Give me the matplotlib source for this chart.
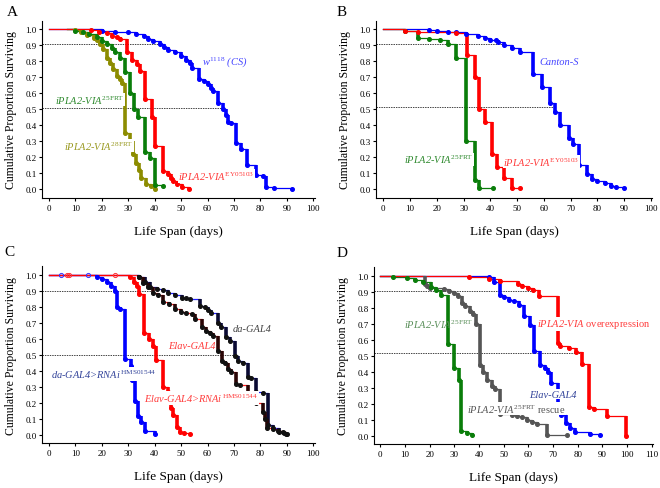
import numpy as np
import matplotlib
matplotlib.use('Agg')
import matplotlib.pyplot as plt
from matplotlib.ticker import FormatStrFormatter

plt.rcParams['font.family'] = ['Liberation Serif', 'DejaVu Serif']
plt.rcParams['mathtext.fontset'] = 'custom'
plt.rcParams['mathtext.rm'] = 'Liberation Serif'
plt.rcParams['mathtext.it'] = 'Liberation Serif:italic'
plt.rcParams['mathtext.bf'] = 'Liberation Serif:bold'

# ---- Panel A ----
a_w_t = [0, 20, 25, 30, 33, 36, 37.5, 39.5, 42, 43.5, 45, 47.8, 50, 52, 53.4, 54.3, 56.8, 58.8, 60, 61.3,
         62, 64, 65.9, 66.8, 67.8, 69, 70.9, 72.8, 75, 78.4, 80.9, 82, 85, 92]
a_w_s = [1.0, 0.99, 0.985, 0.98, 0.97, 0.96, 0.94, 0.925, 0.91, 0.89, 0.87, 0.86, 0.83, 0.81, 0.79, 0.76, 0.69, 0.675, 0.655, 0.63,
         0.61, 0.54, 0.50, 0.46, 0.42, 0.41, 0.29, 0.25, 0.15, 0.085, 0.08, 0.012, 0.006, 0.0]
a_r_t = [0, 16, 19, 22, 24, 25.6, 27, 29.4, 31.5, 33.2, 34.5, 36.3, 38.8, 40.3, 43.1, 45, 46, 47, 48.5, 50.3, 53]
a_r_s = [1.0, 0.995, 0.985, 0.975, 0.96, 0.95, 0.94, 0.86, 0.81, 0.78, 0.74, 0.56, 0.45, 0.27, 0.11, 0.09, 0.07, 0.05, 0.03, 0.012, 0.0]
a_g_t = [7, 10, 13, 15, 18, 20, 22, 24, 25, 27, 28.8, 30.6, 32.3, 33.8, 36.3, 38.1, 40, 43]
a_g_s = [1.0, 0.99, 0.98, 0.97, 0.95, 0.925, 0.905, 0.88, 0.855, 0.82, 0.73, 0.60, 0.50, 0.45, 0.23, 0.19, 0.025, 0.015]
a_o_t = [7, 10, 12, 14.4, 16.9, 18.1, 19.4, 20.6, 21.9, 23.1, 24.4, 25.6, 26.9, 27.8, 28.8, 30.6, 31.9, 33.1, 34, 35, 36.9, 38.5, 40]
a_o_s = [1.0, 0.995, 0.985, 0.965, 0.947, 0.93, 0.91, 0.875, 0.82, 0.79, 0.75, 0.71, 0.69, 0.665, 0.35, 0.30, 0.215, 0.16, 0.12, 0.07, 0.03, 0.015, 0.0]
a_ref_y = [0.905, 0.505]
a_ref_end = [43, 66]

# ---- Panel B ----
b_c_t = [0, 17, 20, 24, 27, 31, 35.5, 38, 40, 42, 43, 45, 48, 51, 56, 59.4, 62.4, 64.2, 66, 69.2,
         71, 73, 76, 78, 80, 83, 85, 87, 90]
b_c_s = [1.0, 0.995, 0.99, 0.985, 0.98, 0.97, 0.956, 0.945, 0.935, 0.93, 0.92, 0.90, 0.88, 0.855, 0.72, 0.635, 0.54, 0.48, 0.40, 0.32,
         0.28, 0.15, 0.09, 0.06, 0.05, 0.035, 0.02, 0.01, 0.004]
b_r_t = [0, 8, 13, 27, 31.2, 34.4, 35.6, 38.1, 40.6, 42.5, 45, 48, 51]
b_r_s = [1.0, 0.99, 0.98, 0.975, 0.84, 0.70, 0.50, 0.42, 0.215, 0.135, 0.065, 0.005, 0.004]
b_g_t = [0, 8, 13, 17, 21, 24, 27, 31, 34.2, 35.8, 41]
b_g_s = [1.0, 0.99, 0.945, 0.937, 0.932, 0.91, 0.82, 0.30, 0.055, 0.005, 0.004]
b_ref_y = [0.905, 0.51]
b_ref_end = [44.8, 63.8]

# ---- Panel C ----
c_dr_t = [0, 18, 20, 22, 23.5, 25, 25.6, 26.9, 28.8, 31.2, 31.6, 32.5, 33.6, 35, 36.3, 40]
c_dr_s = [1.0, 0.99, 0.975, 0.96, 0.93, 0.90, 0.80, 0.79, 0.475, 0.43, 0.34, 0.21, 0.12, 0.08, 0.025, 0.005]
c_er_t = [0, 30.6, 32, 33.3, 34, 36, 37.8, 39.2, 40.4, 43, 45, 46, 47, 48.3, 49.6, 51, 53.3]
c_er_s = [1.0, 0.99, 0.96, 0.93, 0.88, 0.64, 0.60, 0.555, 0.47, 0.30, 0.27, 0.17, 0.125, 0.05, 0.02, 0.01, 0.004]
c_d_t = [0, 34, 36.3, 38.2, 40.7, 43.2, 45, 47.7, 50.3, 52, 53.4, 57.1, 59, 60.3, 61.5, 63.8, 65, 67.1, 68.4, 70.3,
         71.5, 73.5, 75.3, 76.5, 78.4, 81, 82.8, 84.6, 87, 89, 90]
c_d_s = [1.0, 0.99, 0.96, 0.925, 0.915, 0.905, 0.89, 0.875, 0.86, 0.855, 0.85, 0.81, 0.80, 0.785, 0.765, 0.70, 0.675, 0.61, 0.59, 0.495,
         0.465, 0.45, 0.36, 0.355, 0.265, 0.26, 0.06, 0.04, 0.02, 0.01, 0.004]
c_e_t = [0, 34, 35.7, 37.6, 39.5, 41.4, 43.2, 45.5, 47.8, 50, 52, 54, 55.3, 57.8, 59.6, 60.9, 62.1, 64, 65.3, 66.5,
         67.8, 69, 70.9, 72.1, 75.3, 76.3, 78.4, 80.9, 81.8, 82.5, 84.6, 86.5, 88.4, 89.6]
c_e_s = [1.0, 0.99, 0.95, 0.925, 0.89, 0.875, 0.83, 0.82, 0.79, 0.77, 0.765, 0.755, 0.725, 0.675, 0.65, 0.635, 0.62, 0.525, 0.46, 0.45,
         0.41, 0.395, 0.32, 0.31, 0.225, 0.205, 0.20, 0.14, 0.10, 0.045, 0.035, 0.025, 0.015, 0.004]
c_open_blue = [4.5, 14.9]
c_open_red = [6.7, 7.7, 25]
c_ref_y = [0.904, 0.50]
c_ref_end = [38.8, 71.6]

# ---- Panel D ----
d_g_t = [0, 5, 11, 14, 17.5, 20.7, 22.7, 24.7, 27.5, 29.8, 31.9, 32.9, 35, 37]
d_g_s = [1.0, 0.99, 0.988, 0.975, 0.96, 0.93, 0.91, 0.88, 0.575, 0.42, 0.345, 0.03, 0.015, 0.005]
d_k_t = [0, 18, 19, 20, 26, 28, 30, 31.6, 33, 34.3, 36.4, 37.7, 39, 40.4, 41.8, 43.1, 45.1, 46.5, 48.5, 53.2,
         55.3, 57.3, 59.3, 61.4, 63.4, 67.4, 75.5]
d_k_s = [1.0, 0.95, 0.935, 0.925, 0.915, 0.905, 0.89, 0.87, 0.83, 0.81, 0.78, 0.76, 0.70, 0.44, 0.40, 0.35, 0.31, 0.29, 0.135, 0.13,
         0.125, 0.115, 0.10, 0.085, 0.07, 0.006, 0.004]
d_b_t = [0, 44, 46, 48.5, 50, 52, 54.4, 56.4, 58.2, 60.5, 62.3, 64.8, 66.6, 68, 69.3, 72, 73.4, 75.4, 76.8, 78.8, 85, 89]
d_b_s = [1.0, 0.99, 0.96, 0.88, 0.865, 0.85, 0.84, 0.815, 0.75, 0.69, 0.53, 0.44, 0.42, 0.40, 0.33, 0.18, 0.13, 0.08, 0.05, 0.02, 0.01, 0.004]
d_r_t = [0, 36, 44, 48.5, 56, 57.5, 60, 62, 64.5, 72, 73, 76.5, 79.5, 81.8, 84.8, 86.8, 92, 99.5]
d_r_s = [1.0, 0.99, 0.98, 0.965, 0.95, 0.935, 0.925, 0.91, 0.875, 0.58, 0.56, 0.545, 0.52, 0.445, 0.18, 0.165, 0.125, 0.0]
d_ref_y = [0.906, 0.517]
d_ref_end = [62.7, 81.6]


def km(ax, t, s, color, vcolor=None, mcolor=None, z=2):
    # Kaplan-Meier curve: thin horizontal steps, thick drops, dot at every event
    vcolor = vcolor or color
    mcolor = mcolor or vcolor
    t = np.asarray(t, float)
    s = np.asarray(s, float)
    ax.step(t, s, where='post', color=color, lw=0.9, zorder=z)
    ax.vlines(t[1:], s[1:], s[:-1], color=vcolor, lw=2.6, zorder=z + 0.1)
    ax.plot(t[1:], s[1:], 'o', ms=2.6, color=mcolor, mec=mcolor, zorder=z + 0.2)


def refs(ax, ys, ends, x0):
    for y, e in zip(ys, ends):
        ax.plot([x0, e], [y, y], color='#444444', lw=0.7, ls=(0, (1.5, 1.0)), zorder=1)


def label(ax, x, y, txt, color, box=True):
    bb = dict(facecolor='white', edgecolor='none', pad=0.3) if box else None
    ax.text(x, y, txt, color=color, fontsize=7.5, fontstyle='italic', va='center', ha='left',
            zorder=10, bbox=bb)


def setup(ax, xmax, xlim, ylim, xl_y):
    ax.set_xlim(*xlim)
    ax.set_ylim(*ylim)
    ax.set_xticks(range(0, xmax + 1, 10))
    ax.set_yticks(np.arange(0, 1.01, 0.1))
    ax.yaxis.set_major_formatter(FormatStrFormatter('%.1f'))
    for sp in ['top', 'right']:
        ax.spines[sp].set_visible(False)
    for sp in ['left', 'bottom']:
        ax.spines[sp].set_linewidth(0.8)
    ax.tick_params(labelsize=6.5, length=2.5, width=0.8, pad=1.5)
    ax.set_xlabel('Life Span (days)', fontsize=9.5)
    ax.set_ylabel('Cumulative Proportion Surviving', fontsize=8.5)
    ax.xaxis.set_label_coords(0.5, xl_y)
    ax.yaxis.set_label_coords(-0.092, 0.5)


fig = plt.figure(figsize=(6.6, 4.89), dpi=100)

axA = fig.add_axes([0.0636, 0.593, 0.413, 0.3627])
axB = fig.add_axes([0.5697, 0.593, 0.4186, 0.3627])
axC = fig.add_axes([0.0636, 0.092, 0.413, 0.3614])
axD = fig.add_axes([0.5671, 0.090, 0.4221, 0.362])

# A
setup(axA, 100, (-2.65, 100.5), (-0.058, 1.054), -0.15)
refs(axA, a_ref_y, a_ref_end, -2.65)
km(axA, a_w_t, a_w_s, '#0000ff')
km(axA, a_o_t, a_o_s, '#8c8c00')
km(axA, a_g_t, a_g_s, '#0a7d0a')
km(axA, a_r_t, a_r_s, '#ff0000')
label(axA, 58, 0.80, r'$w^{\mathrm{1118}}$ (CS)', '#4444ff')
label(axA, 2.3, 0.56, r'iPLA2-$VIA^{\mathrm{25FRT}}$', '#2f8a2f')
label(axA, 5.8, 0.27, r'iPLA2-$VIA^{\mathrm{28FRT}}$', '#9a9a22')
label(axA, 49, 0.08, r'iPLA2-$VIA^{\mathrm{EY05103}}$', '#ff3b3b')

# B
setup(axB, 100, (-2.73, 100.5), (-0.058, 1.054), -0.15)
refs(axB, b_ref_y, b_ref_end, -2.73)
km(axB, b_c_t, b_c_s, '#0000ff')
km(axB, b_g_t, b_g_s, '#0a7d0a')
km(axB, b_r_t, b_r_s, '#ff0000')
label(axB, 58.5, 0.795, 'Canton-S', '#4444ff')
label(axB, 7.7, 0.185, r'iPLA2-$VIA^{\mathrm{25FRT}}$', '#2f8a2f')
label(axB, 44.8, 0.17, r'iPLA2-$VIA^{\mathrm{EY05103}}$', '#ff3b3b')

# C
setup(axC, 100, (-2.65, 100.5), (-0.052, 1.056), -0.155)
refs(axC, c_ref_y, c_ref_end, -2.65)
km(axC, c_d_t, c_d_s, '#2020ff', vcolor='#0a0a33', mcolor='#111111')
km(axC, c_e_t, c_e_s, '#ff2020', vcolor='#2a0505', mcolor='#111111')
km(axC, c_dr_t, c_dr_s, '#0000ff')
km(axC, c_er_t, c_er_s, '#ff0000')
axC.plot(c_open_blue, [1.0] * len(c_open_blue), 'o', ms=3, mfc='none', mec='#3333ff', mew=0.7, zorder=4)
axC.plot(c_open_red, [1.0] * len(c_open_red), 'o', ms=3, mfc='none', mec='#ff3333', mew=0.7, zorder=4)
label(axC, 69.7, 0.663, 'da-GAL4', '#444444')
label(axC, 45.1, 0.56, 'Elav-GAL4', '#ff3b3b')
label(axC, 0.8, 0.38, r'da-GAL4>$RNAi\,^{\mathrm{HMS01544}}$', '#33449a')
label(axC, 36, 0.23, r'Elav-GAL4>$RNAi\,^{\mathrm{HMS01544}}$', '#ff3b3b')

# D
setup(axD, 110, (-2.43, 110.5), (-0.052, 1.054), -0.155)
refs(axD, d_ref_y, d_ref_end, -2.43)
km(axD, d_k_t, d_k_s, '#555555')
km(axD, d_g_t, d_g_s, '#0a7d0a')
km(axD, d_b_t, d_b_s, '#0000ff')
km(axD, d_r_t, d_r_s, '#ff0000')
label(axD, 9.6, 0.70, r'iPLA2-$VIA^{\mathrm{25FRT}}$', '#5a8f5a', box=False)
label(axD, 63.5, 0.70, r'iPLA2-VIA $\mathrm{overexpression}$', '#ff3b3b')
label(axD, 60.3, 0.26, 'Elav-GAL4', '#33449a')
label(axD, 35.1, 0.17, r'iPLA2-$VIA^{\mathrm{25FRT}}$ $\mathrm{rescue}$', '#555555')

for lab, x, y in [('A', 0.010, 0.988), ('B', 0.510, 0.988), ('C', 0.006, 0.496), ('D', 0.510, 0.494)]:
    fig.text(x, y, lab, fontsize=11, va='top', ha='left')

fig.savefig('out.png', dpi=100, facecolor='white')
